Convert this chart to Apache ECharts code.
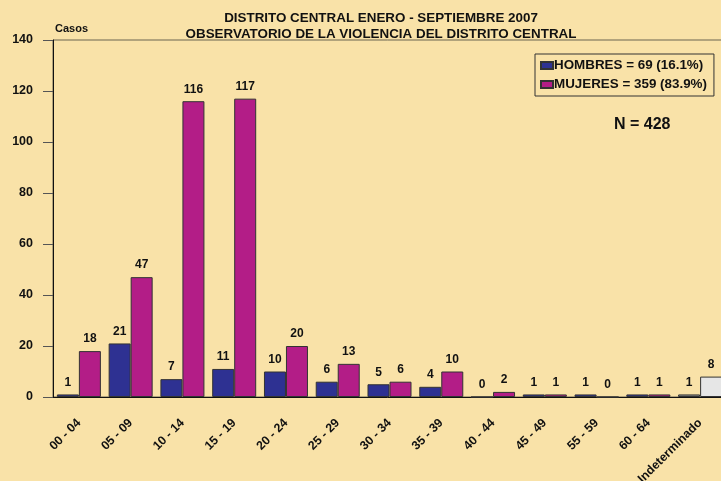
<!DOCTYPE html>
<html>
<head>
<meta charset="utf-8">
<script src="https://cdn.jsdelivr.net/npm/echarts@6/dist/echarts.min.js"></script>
<style>
  html, body { margin: 0; padding: 0; background: #F9E2A8; }
  #chart { width: 721px; height: 481px; }
</style>
</head>
<body>
<div id="chart"></div>
<script>
// Age groups (years)
const categories = ['00 - 04', '05 - 09', '10 - 14', '15 - 19', '20 - 24', '25 - 29',
  '30 - 34', '35 - 39', '40 - 44', '45 - 49', '55 - 59', '60 - 64', 'Indeterminado'];
// Cases by sex
const hombres = [1, 21, 7, 11, 10, 6, 5, 4, 0, 1, 1, 1, 1];
const mujeres = [18, 47, 116, 117, 20, 13, 6, 10, 2, 1, 0, 1, 8];
// Value axis ticks
const yTicks = [0, 20, 40, 60, 80, 100, 120, 140];

const FONT = 'Liberation Sans, Arial, sans-serif';
const sum = arr => arr.reduce((a, b) => a + b, 0);
const sumH = sum(hombres);
const sumM = sum(mujeres);
const total = sumH + sumM;
const pct = v => (v / total * 100).toFixed(1);
const nameH = 'HOMBRES = ' + sumH + ' (' + pct(sumH) + '%)';
const nameM = 'MUJERES = ' + sumM + ' (' + pct(sumM) + '%)';

// The undetermined-age group is drawn in greys
const lastIdx = categories.length - 1;
const toItems = (arr, grey) => arr.map((v, i) => i === lastIdx
  ? { value: v, itemStyle: { color: grey } } : v);

const labelStyle = {
  show: true, position: 'top', distance: 6,
  fontFamily: FONT, fontWeight: 'bold', fontSize: 12, color: '#111'
};

const chart = echarts.init(document.getElementById('chart'), null, { renderer: 'canvas' });
chart.setOption({
  backgroundColor: '#F9E2A8',
  animation: false,
  title: {
    text: 'DISTRITO CENTRAL ENERO - SEPTIEMBRE 2007\nOBSERVATORIO DE LA VIOLENCIA DEL DISTRITO CENTRAL',
    left: 376, top: 5, textAlign: 'center',
    textStyle: { fontFamily: FONT, fontWeight: 'bold', fontSize: 13.4, color: '#111', lineHeight: 16 }
  },
  legend: {
    orient: 'vertical', left: 535, top: 54,
    itemWidth: 12, itemHeight: 7, itemGap: 6,
    padding: [5, 7, 5, 5],
    borderColor: '#333', borderWidth: 1,
    icon: 'rect',
    textStyle: { fontFamily: FONT, fontWeight: 'bold', fontSize: 13.4, color: '#111', padding: [0, 0, 0, -4] },
    data: [nameH, nameM]
  },
  graphic: [
    { type: 'text', left: 55, top: 23,
      style: { text: 'Casos', fontFamily: FONT, fontWeight: 'bold', fontSize: 11, fill: '#111' } },
    { type: 'text', left: 614, top: 117,
      style: { text: 'N = ' + total, fontFamily: FONT, fontWeight: 'bold', fontSize: 16, fill: '#111' } }
  ],
  grid: {
    left: 53, width: 673, top: 40, bottom: 84,
    outerBoundsMode: 'none', containLabel: false,
    show: true, borderColor: '#6b6550', borderWidth: 1, backgroundColor: 'transparent'
  },
  xAxis: {
    type: 'category', data: categories,
    axisLine: { lineStyle: { color: '#111', width: 1 } },
    axisTick: { alignWithLabel: true, length: 10, lineStyle: { color: '#555' } },
    axisLabel: {
      rotate: 45, margin: 24, interval: 0,
      fontFamily: FONT, fontWeight: 'bold', fontSize: 12.3, color: '#111'
    }
  },
  yAxis: {
    type: 'value', min: yTicks[0], max: yTicks[yTicks.length - 1], interval: 20,
    axisLine: { show: true, lineStyle: { color: '#111', width: 1 } },
    axisTick: { show: true, length: 10, lineStyle: { color: '#555' } },
    axisLabel: { margin: 20, fontFamily: FONT, fontWeight: 'bold', fontSize: 12.5, color: '#111' },
    splitLine: { show: false }
  },
  series: [
    {
      name: nameH, type: 'bar', data: toItems(hombres, '#8C8C8C'),
      barGap: '0%', barCategoryGap: '15%',
      itemStyle: { color: '#2E3192', borderColor: '#333', borderWidth: 1 },
      label: labelStyle
    },
    {
      name: nameM, type: 'bar', data: toItems(mujeres, '#E6E6E6'),
      itemStyle: { color: '#B31D87', borderColor: '#333', borderWidth: 1 },
      label: labelStyle
    }
  ]
});
</script>
</body>
</html>
